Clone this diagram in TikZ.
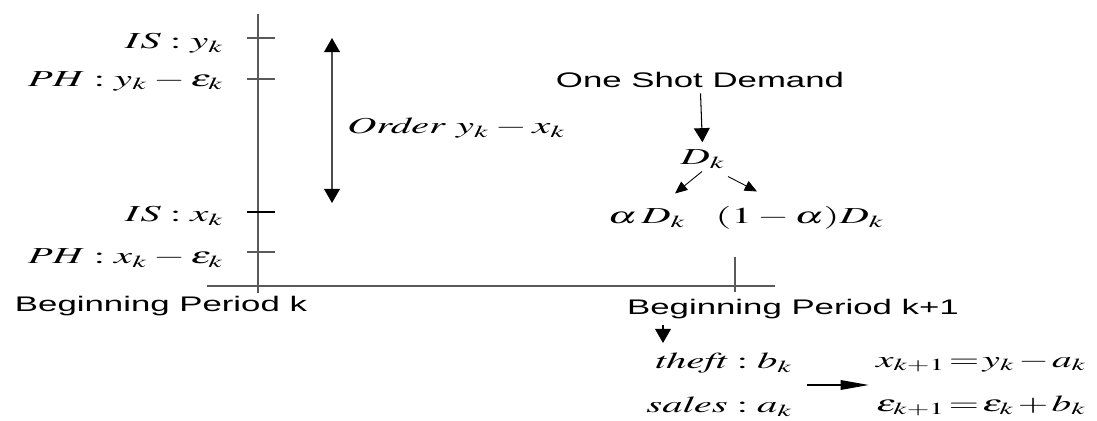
\documentclass[tikz,border=0pt]{standalone}
\usepackage{graphicx}
\usepackage{mathptmx}
\usepackage{fontspec}
\setmainfont{Liberation Serif}
\setsansfont{Liberation Sans}
\usetikzlibrary{
  arrows.meta,
  positioning,
  calc
}

\newcommand{\widetxt}[1]{\scalebox{1.65}[1]{\sffamily #1}}
\newcommand{\widemath}[2][1.78]{\scalebox{#1}[1]{$\thickmuskip=4mu\medmuskip=2.5mu #2$}}

\tikzset{
  axisline/.style={draw=black!65, line width=0.7pt},
  tickline/.style={draw=black!65, line width=0.6pt},
  vflow/.style={-{Triangle[length=8pt,width=9pt]}, line width=0.6pt},
  dflow/.style={-{Triangle[length=7pt,width=6pt]}, line width=0.5pt},
  hflow/.style={-{Triangle[length=16pt,width=5.5pt]}, line width=0.6pt},
  oflow/.style={{Triangle[length=8pt,width=9pt,color=black]}-{Triangle[length=8pt,width=9pt,color=black]}, draw=black!70, line width=0.7pt},
  mlbl/.style={font=\fontsize{13}{15}\selectfont, inner sep=1pt},
  slbl/.style={font=\fontsize{12}{14}\selectfont, inner sep=1pt}
}

\begin{document}
\begin{tikzpicture}[x=0.02cm, y=-0.02cm]
  \useasboundingbox (0,0) rectangle (1097,421);
  % axes of period k
  \draw[axisline] (258,14) -- (258,293);
  \draw[axisline] (207,286) -- (775,286);
  \foreach \yy/\ly/\lbl/\nm/\tc in {38/43/{IS:y_k}/isy/black!65, 79/81/{PH:y_k-\varepsilon_k}/phy/black!65, 212/216/{IS:x_k}/isx/black, 252/258/{PH:x_k-\varepsilon_k}/phx/black!65}{
    \draw[tickline, draw=\tc] (247,\yy) -- (275,\yy);
    \node[mlbl, anchor=east] (\nm) at (226,\ly) {\widemath{\lbl}};
  }
  % order quantity
  \coordinate (otop) at (332,38);
  \coordinate (obot) at (332,203);
  \draw[oflow] (otop) -- (obot);
  \node[mlbl, anchor=west] (order) at (345,128) {\widemath{\mathit{Order}\ y_k-x_k}};
  % demand split
  \node[slbl] (shot) at (700,80) {\widetxt{One Shot Demand}};
  \node[mlbl] (dk) at (703,159) {\widemath{D_k}};
  \node[mlbl] (adk) at (647,218) {\widemath{\alpha\,D_k}};
  \node[mlbl] (odk) at (800,218) {\widemath{(1-\alpha)D_k}};
  \draw[vflow, shorten <=2pt, shorten >=3pt] (shot) -- (dk);
  \draw[dflow] ($(dk.south)+(-1,1)$) -- ($(adk.north)+(28,-13)$);
  \draw[dflow] ($(dk.south)+(25,6)$) -- ($(odk.north)+(-43,-13)$);
  % period k+1
  \coordinate (ptop) at (735,257);
  \coordinate (pbot) at (735,292);
  \draw[axisline] (ptop) -- (pbot);
  \node[slbl] (bpk) at (161,306) {\widetxt{Beginning Period k}};
  \node[slbl] (bpk1) at (793,309) {\widetxt{Beginning Period k+1}};
  \node[mlbl, anchor=east, align=right, font=\fontsize{13}{25}\selectfont] (upd) at (795,385)
    {\widemath{\mathit{theft}:b_k}\\ \widemath{\mathit{sales}:a_k}};
  \node[mlbl, anchor=west, align=left, font=\fontsize{13}{25}\selectfont] (eqs) at (874,385)
    {\widemath[1.72]{\thickmuskip=1.5mu\medmuskip=1.5mu x_{k+1}=y_k-a_k}\\
     \widemath[1.72]{\thickmuskip=1.5mu\medmuskip=1.5mu \varepsilon_{k+1}=\varepsilon_k+b_k}};
  \coordinate (dtop) at (663,325);
  \coordinate (dbot) at (663,343);
  \draw[vflow] (dtop) -- (dbot);
  \draw[hflow, shorten <=7pt, shorten >=3pt] (upd) -- (eqs);
\end{tikzpicture}
\end{document}
